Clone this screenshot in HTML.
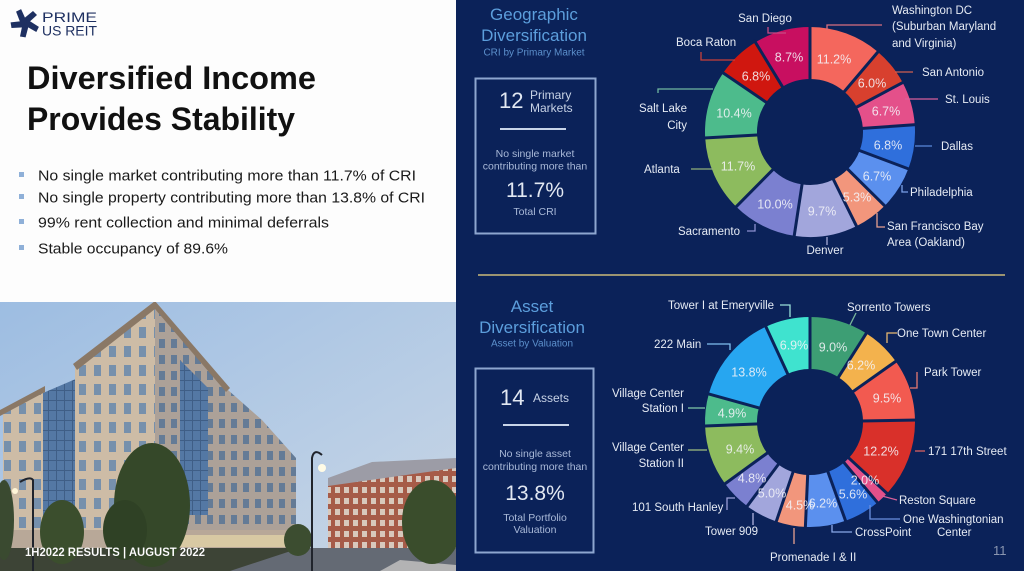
<!DOCTYPE html>
<html><head><meta charset="utf-8"><style>
html,body{margin:0;padding:0;background:#fff;}
svg{display:block;font-family:"Liberation Sans",sans-serif;}
</style></head><body>
<svg width="1024" height="571" viewBox="0 0 1024 571" xmlns="http://www.w3.org/2000/svg">
<defs>
<linearGradient id="sky" x1="0" y1="0" x2="1" y2="1">
<stop offset="0" stop-color="#9dbde2"/><stop offset="0.6" stop-color="#b8cde5"/><stop offset="1" stop-color="#cad6e4"/></linearGradient>
<pattern id="winL" x="0" y="0" width="15" height="19" patternUnits="userSpaceOnUse"><rect width="15" height="19" fill="#cdbca6"/><rect x="4" y="4" width="7" height="11" fill="#7690ac"/></pattern>
<pattern id="winR" x="0" y="0" width="12" height="16" patternUnits="userSpaceOnUse"><rect width="12" height="16" fill="#aca198"/><rect x="3" y="3" width="6" height="9" fill="#647b96"/></pattern>
<pattern id="glass" x="0" y="0" width="8" height="10" patternUnits="userSpaceOnUse"><rect width="8" height="10" fill="#5478a4"/><rect x="0" y="0" width="1" height="10" fill="#3f5e86"/><rect x="0" y="0" width="8" height="1" fill="#3f5e86"/></pattern>
<pattern id="brick" x="0" y="0" width="9" height="11" patternUnits="userSpaceOnUse"><rect width="9" height="11" fill="#a65b48"/><rect x="2" y="3" width="5" height="6" fill="#d8c8bc"/></pattern>
<clipPath id="photo"><rect x="0" y="302" width="456" height="269"/></clipPath>
</defs>

<!-- left white panel -->
<rect x="0" y="0" width="456" height="571" fill="#fdfdfd"/>

<!-- logo -->
<g transform="translate(25,23)" fill="#1e3061">
<g><polygon points="-3,-3 8,-12 12,-8 1,2"/></g>
<g transform="rotate(72)"><polygon points="-3,-3 8,-12 12,-8 1,2"/></g>
<g transform="rotate(144)"><polygon points="-3,-3 8,-12 12,-8 1,2"/></g>
<g transform="rotate(216)"><polygon points="-3,-3 8,-12 12,-8 1,2"/></g>
<g transform="rotate(288)"><polygon points="-3,-3 8,-12 12,-8 1,2"/></g>
</g>
<text x="42" y="22" font-size="14" fill="#1e3061" textLength="55" lengthAdjust="spacingAndGlyphs">PRIME</text>
<text x="42" y="35.5" font-size="13.5" fill="#1e3061" textLength="55" lengthAdjust="spacingAndGlyphs">US REIT</text>

<!-- title -->
<text x="27" y="89" font-size="32.5" font-weight="bold" fill="#111" textLength="289" lengthAdjust="spacingAndGlyphs">Diversified Income</text>
<text x="27" y="130" font-size="32.5" font-weight="bold" fill="#111" textLength="268" lengthAdjust="spacingAndGlyphs">Provides Stability</text>

<!-- bullets -->
<g fill="#8fb0d8"><rect x="19" y="172" width="5" height="5"/><rect x="19" y="194" width="5" height="5"/><rect x="19" y="219" width="5" height="5"/><rect x="19" y="245" width="5" height="5"/></g>
<g font-size="15" fill="#1a1a1a">
<text x="38" y="180.5" textLength="378" lengthAdjust="spacingAndGlyphs">No single market contributing more than 11.7% of CRI</text>
<text x="38" y="202.5" textLength="387" lengthAdjust="spacingAndGlyphs">No single property contributing more than 13.8% of CRI</text>
<text x="38" y="227.5" textLength="291" lengthAdjust="spacingAndGlyphs">99% rent collection and minimal deferrals</text>
<text x="38" y="253.5" textLength="190" lengthAdjust="spacingAndGlyphs">Stable occupancy of 89.6%</text>
</g>

<!-- photo -->
<g clip-path="url(#photo)">
<rect x="0" y="302" width="456" height="269" fill="url(#sky)"/>
<polygon points="328,478 372,462 456,458 456,470 328,488" fill="#9c9ca6"/>
<polygon points="328,486 456,468 456,550 328,550" fill="url(#brick)"/>
<polygon points="3,410 45,388 45,560 3,560" fill="url(#winL)"/>
<polygon points="43,393 78,378 78,548 43,548" fill="url(#glass)"/>
<polygon points="75,366 155,304 160,308 160,550 75,550" fill="url(#winL)"/>
<polygon points="155,304 228,390 262,420 296,458 296,550 155,550" fill="url(#winR)"/>
<polygon points="180,360 208,388 208,515 180,515" fill="url(#glass)"/>
<polygon points="0,410 45,386 45,392 0,416" fill="#8a7866"/>
<polygon points="73,364 155,301 230,388 226,392 155,309 77,370" fill="#8a7866"/>
<rect x="3" y="530" width="293" height="22" fill="#b8a898"/>
<rect x="160" y="535" width="130" height="12" fill="#e6d7a8" opacity="0.7"/>
<rect x="0" y="548" width="456" height="23" fill="#3d4436"/>
<polygon points="230,571 300,548 456,548 456,571" fill="#646a74"/>
<polygon points="380,571 400,560 456,565 456,571" fill="#e8e4e0" opacity="0.6"/>
<ellipse cx="152" cy="505" rx="38" ry="62" fill="#354829"/>
<ellipse cx="125" cy="530" rx="22" ry="30" fill="#2f4125"/>
<ellipse cx="62" cy="532" rx="22" ry="32" fill="#3b4e2d"/>
<ellipse cx="432" cy="522" rx="30" ry="42" fill="#3a4d2c"/>
<ellipse cx="298" cy="540" rx="14" ry="16" fill="#3c4d30"/>
<ellipse cx="4" cy="520" rx="10" ry="40" fill="#3a4a30"/>
<path d="M312,571 L312,458 Q314,448 322,455" stroke="#20242c" stroke-width="2" fill="none"/>
<circle cx="322" cy="468" r="4" fill="#fffbe6"/>
<path d="M33,571 L33,480 Q30,476 20,482" stroke="#20242c" stroke-width="2" fill="none"/>
<circle cx="15" cy="491" r="3" fill="#fff6d8"/>
<text x="25" y="556" font-size="12" font-weight="bold" fill="#ffffff" textLength="180" lengthAdjust="spacingAndGlyphs" stroke="#00000033" stroke-width="0.3">1H2022 RESULTS |  AUGUST 2022</text>
</g>

<!-- right navy panel -->
<rect x="456" y="0" width="568" height="571" fill="#0b2259"/>

<g text-anchor="middle" fill="#5c9edc">
<text x="534" y="20" font-size="17">Geographic</text>
<text x="534" y="41" font-size="17">Diversification</text>
<text x="534" y="55.5" font-size="10" fill="#5c90cc">CRI by Primary Market</text>
</g>
<rect x="475.5" y="78.5" width="120" height="155" fill="none" stroke="#8ea6cf" stroke-width="2"/>
<text x="499" y="108" font-size="22" fill="#e2e8f2">12</text>
<text x="530" y="99" font-size="12" fill="#c8d3e6">Primary</text>
<text x="530" y="112" font-size="12" fill="#c8d3e6">Markets</text>
<line x1="500" y1="129" x2="566" y2="129" stroke="#c8d4e8" stroke-width="2"/>
<g text-anchor="middle" fill="#a9b9d8" font-size="10.5">
<text x="535" y="157">No single market</text>
<text x="535" y="169.5">contributing more than</text>
<text x="535" y="197" font-size="21" fill="#e2e8f2">11.7%</text>
<text x="535" y="215">Total CRI</text>
</g>

<line x1="478" y1="275" x2="1005" y2="275" stroke="#9b9471" stroke-width="2"/>

<g text-anchor="middle" fill="#5c9edc">
<text x="532" y="312" font-size="17">Asset</text>
<text x="532" y="333" font-size="17">Diversification</text>
<text x="532" y="346.5" font-size="10" fill="#5c90cc">Asset by Valuation</text>
</g>
<rect x="475.5" y="368.5" width="118" height="184" fill="none" stroke="#8ea6cf" stroke-width="2"/>
<text x="500" y="405" font-size="22" fill="#e2e8f2">14</text>
<text x="533" y="402" font-size="12" fill="#c8d3e6">Assets</text>
<line x1="503" y1="425" x2="569" y2="425" stroke="#c8d4e8" stroke-width="2"/>
<g text-anchor="middle" fill="#a9b9d8" font-size="10.5">
<text x="535" y="457">No single asset</text>
<text x="535" y="470">contributing more than</text>
<text x="535" y="500" font-size="21" fill="#e2e8f2">13.8%</text>
<text x="535" y="521">Total  Portfolio</text>
<text x="535" y="533">Valuation</text>
</g>

<!-- TOP DONUT -->
<g transform="translate(810,132)" fill="none" stroke-width="52">
<circle r="79" pathLength="100" stroke="#f4675d" stroke-dasharray="11.2 100" transform="rotate(-90)"/>
<circle r="79" pathLength="100" stroke="#d8402e" stroke-dasharray="6.0 100" transform="rotate(-49.68)"/>
<circle r="79" pathLength="100" stroke="#e4508a" stroke-dasharray="6.7 100" transform="rotate(-28.08)"/>
<circle r="79" pathLength="100" stroke="#2f6fdc" stroke-dasharray="6.8 100" transform="rotate(-3.96)"/>
<circle r="79" pathLength="100" stroke="#5b90ee" stroke-dasharray="6.7 100" transform="rotate(20.52)"/>
<circle r="79" pathLength="100" stroke="#f2967c" stroke-dasharray="5.3 100" transform="rotate(44.64)"/>
<circle r="79" pathLength="100" stroke="#a2a6dc" stroke-dasharray="9.7 100" transform="rotate(63.72)"/>
<circle r="79" pathLength="100" stroke="#7b80d0" stroke-dasharray="10.0 100" transform="rotate(98.64)"/>
<circle r="79" pathLength="100" stroke="#8dbb5e" stroke-dasharray="11.7 100" transform="rotate(134.64)"/>
<circle r="79" pathLength="100" stroke="#4dbb8c" stroke-dasharray="10.4 100" transform="rotate(176.76)"/>
<circle r="79" pathLength="100" stroke="#d0170f" stroke-dasharray="6.8 100" transform="rotate(214.2)"/>
<circle r="79" pathLength="100" stroke="#c80f60" stroke-dasharray="8.7 100" transform="rotate(238.68)"/>
<g stroke="#0b2259" stroke-width="3">
<line x1="0" y1="-51" x2="0" y2="-108"/>
<line x1="0" y1="-51" x2="0" y2="-108" transform="rotate(40.32)"/>
<line x1="0" y1="-51" x2="0" y2="-108" transform="rotate(61.92)"/>
<line x1="0" y1="-51" x2="0" y2="-108" transform="rotate(86.04)"/>
<line x1="0" y1="-51" x2="0" y2="-108" transform="rotate(110.52)"/>
<line x1="0" y1="-51" x2="0" y2="-108" transform="rotate(134.64)"/>
<line x1="0" y1="-51" x2="0" y2="-108" transform="rotate(153.72)"/>
<line x1="0" y1="-51" x2="0" y2="-108" transform="rotate(188.64)"/>
<line x1="0" y1="-51" x2="0" y2="-108" transform="rotate(224.64)"/>
<line x1="0" y1="-51" x2="0" y2="-108" transform="rotate(266.76)"/>
<line x1="0" y1="-51" x2="0" y2="-108" transform="rotate(304.2)"/>
<line x1="0" y1="-51" x2="0" y2="-108" transform="rotate(328.68)"/>
</g>
</g>
<g font-size="12.5" fill="#f4f4f8" fill-opacity="0.88" text-anchor="middle">
<text x="834" y="63.5">11.2%</text>
<text x="872" y="87.5">6.0%</text>
<text x="886" y="115.5">6.7%</text>
<text x="888" y="149.5">6.8%</text>
<text x="877" y="180.5">6.7%</text>
<text x="857" y="201.5">5.3%</text>
<text x="822" y="215.5">9.7%</text>
<text x="775" y="208.5">10.0%</text>
<text x="738" y="170.5">11.7%</text>
<text x="734" y="117.5">10.4%</text>
<text x="756" y="80.5">6.8%</text>
<text x="789" y="61.5">8.7%</text>
</g>
<g fill="none" stroke-width="1.3">
<polyline points="768,27 768,33 786,33" stroke="#c84a84"/>
<polyline points="701,52 701,60 735,60" stroke="#c8403a"/>
<polyline points="658,93 658,89 713,89" stroke="#6fb7a0"/>
<polyline points="691,169 713,169" stroke="#8fb07a"/>
<polyline points="747,231 755,231 755,224" stroke="#8c90d0"/>
<polyline points="827,237 827,245" stroke="#a8acd8"/>
<polyline points="877,213 877,227 885,227" stroke="#e8a090"/>
<polyline points="902,185 902,192 908,192" stroke="#7aa0e8"/>
<polyline points="915,146 932,146" stroke="#5a88dc"/>
<polyline points="905,99 938,99" stroke="#d8609a"/>
<polyline points="895,72 913,72" stroke="#d06050"/>
<polyline points="827,30 827,25 882,25" stroke="#d87080"/>
</g>
<g font-size="11.5" fill="#e6ebf4">
<text x="765" y="22" text-anchor="middle">San Diego</text>
<text x="676" y="46">Boca Raton</text>
<text x="687" y="112" text-anchor="end">Salt Lake</text>
<text x="687" y="129" text-anchor="end">City</text>
<text x="644" y="173">Atlanta</text>
<text x="678" y="235">Sacramento</text>
<text x="825" y="254" text-anchor="middle">Denver</text>
<text x="887" y="230">San Francisco Bay</text>
<text x="887" y="246">Area (Oakland)</text>
<text x="910" y="196">Philadelphia</text>
<text x="941" y="150">Dallas</text>
<text x="945" y="103">St. Louis</text>
<text x="922" y="76">San Antonio</text>
<text x="892" y="14">Washington DC</text>
<text x="892" y="30">(Suburban Maryland</text>
<text x="892" y="47">and Virginia)</text>
</g>

<!-- BOTTOM DONUT -->
<g transform="translate(810,422)" fill="none" stroke-width="52">
<circle r="79" pathLength="100" stroke="#3d9e74" stroke-dasharray="9.0 100" transform="rotate(-90)"/>
<circle r="79" pathLength="100" stroke="#f3b24d" stroke-dasharray="6.2 100" transform="rotate(-57.6)"/>
<circle r="79" pathLength="100" stroke="#f25a50" stroke-dasharray="9.5 100" transform="rotate(-35.28)"/>
<circle r="79" pathLength="100" stroke="#d9302a" stroke-dasharray="12.2 100" transform="rotate(-1.08)"/>
<circle r="79" pathLength="100" stroke="#e4508a" stroke-dasharray="2.0 100" transform="rotate(42.84)"/>
<circle r="79" pathLength="100" stroke="#2f6fdc" stroke-dasharray="5.6 100" transform="rotate(50.04)"/>
<circle r="79" pathLength="100" stroke="#5b90ee" stroke-dasharray="6.2 100" transform="rotate(70.2)"/>
<circle r="79" pathLength="100" stroke="#f2967c" stroke-dasharray="4.5 100" transform="rotate(92.52)"/>
<circle r="79" pathLength="100" stroke="#a2a6dc" stroke-dasharray="5.0 100" transform="rotate(108.72)"/>
<circle r="79" pathLength="100" stroke="#7b80d0" stroke-dasharray="4.8 100" transform="rotate(126.72)"/>
<circle r="79" pathLength="100" stroke="#8dbb5e" stroke-dasharray="9.4 100" transform="rotate(144)"/>
<circle r="79" pathLength="100" stroke="#4dbb8c" stroke-dasharray="4.9 100" transform="rotate(177.84)"/>
<circle r="79" pathLength="100" stroke="#27a6f0" stroke-dasharray="13.8 100" transform="rotate(195.48)"/>
<circle r="79" pathLength="100" stroke="#3fe3cf" stroke-dasharray="6.9 100" transform="rotate(245.16)"/>
<g stroke="#0b2259" stroke-width="3">
<line x1="0" y1="-51" x2="0" y2="-108"/>
<line x1="0" y1="-51" x2="0" y2="-108" transform="rotate(32.4)"/>
<line x1="0" y1="-51" x2="0" y2="-108" transform="rotate(54.72)"/>
<line x1="0" y1="-51" x2="0" y2="-108" transform="rotate(88.92)"/>
<line x1="0" y1="-51" x2="0" y2="-108" transform="rotate(132.84)"/>
<line x1="0" y1="-51" x2="0" y2="-108" transform="rotate(140.04)"/>
<line x1="0" y1="-51" x2="0" y2="-108" transform="rotate(160.2)"/>
<line x1="0" y1="-51" x2="0" y2="-108" transform="rotate(182.52)"/>
<line x1="0" y1="-51" x2="0" y2="-108" transform="rotate(198.72)"/>
<line x1="0" y1="-51" x2="0" y2="-108" transform="rotate(216.72)"/>
<line x1="0" y1="-51" x2="0" y2="-108" transform="rotate(234)"/>
<line x1="0" y1="-51" x2="0" y2="-108" transform="rotate(267.84)"/>
<line x1="0" y1="-51" x2="0" y2="-108" transform="rotate(285.48)"/>
<line x1="0" y1="-51" x2="0" y2="-108" transform="rotate(335.16)"/>
</g>
</g>
<g font-size="12.5" fill="#f4f4f8" fill-opacity="0.88" text-anchor="middle">
<text x="794" y="349.5">6.9%</text>
<text x="833" y="351.5">9.0%</text>
<text x="861" y="369.5">6.2%</text>
<text x="887" y="402.5">9.5%</text>
<text x="881" y="455.5">12.2%</text>
<text x="865" y="484.5">2.0%</text>
<text x="853" y="498.5">5.6%</text>
<text x="823" y="507.5">6.2%</text>
<text x="800" y="509.5">4.5%</text>
<text x="772" y="497.5">5.0%</text>
<text x="752" y="482.5">4.8%</text>
<text x="740" y="453.5">9.4%</text>
<text x="732" y="417.5">4.9%</text>
<text x="749" y="376.5">13.8%</text>
</g>
<g fill="none" stroke-width="1.3">
<polyline points="780,305 790,305 790,317" stroke="#9ae0d8"/>
<polyline points="856,313 850,325" stroke="#7ab89c"/>
<polyline points="897,333 887,333 887,343" stroke="#e8b870"/>
<polyline points="917,372 917,388 910,388" stroke="#e87870"/>
<polyline points="915,451 925,451" stroke="#d86060"/>
<polyline points="882,496 897,500" stroke="#d8609a"/>
<polyline points="870,505 870,519 900,519" stroke="#6a90e0"/>
<polyline points="832,525 832,532 852,532" stroke="#8aa8e8"/>
<polyline points="794,528 794,544" stroke="#e8a090"/>
<polyline points="753,513 753,525" stroke="#b0b4e0"/>
<polyline points="735,498 727,498 727,510" stroke="#9a9ed8"/>
<polyline points="688,450 707,450" stroke="#a0c080"/>
<polyline points="688,408 705,408" stroke="#80c8a8"/>
<polyline points="707,344 730,344 730,350" stroke="#80c0f0"/>
</g>
<g font-size="11.5" fill="#e6ebf4">
<text x="668" y="309">Tower I at Emeryville</text>
<text x="847" y="311">Sorrento Towers</text>
<text x="897" y="337">One Town Center</text>
<text x="924" y="376">Park Tower</text>
<text x="928" y="455">171 17th Street</text>
<text x="899" y="504">Reston Square</text>
<text x="903" y="523">One Washingtonian</text>
<text x="937" y="536">Center</text>
<text x="855" y="536">CrossPoint</text>
<text x="770" y="561">Promenade I &amp; II</text>
<text x="705" y="535">Tower 909</text>
<text x="632" y="511">101 South Hanley</text>
<text x="684" y="451" text-anchor="end">Village Center</text>
<text x="684" y="467" text-anchor="end">Station II</text>
<text x="684" y="397" text-anchor="end">Village Center</text>
<text x="684" y="412" text-anchor="end">Station I</text>
<text x="654" y="348">222 Main</text>
</g>
<text x="993" y="555" font-size="13" fill="#8a96b0">11</text>
</svg>
</body></html>
